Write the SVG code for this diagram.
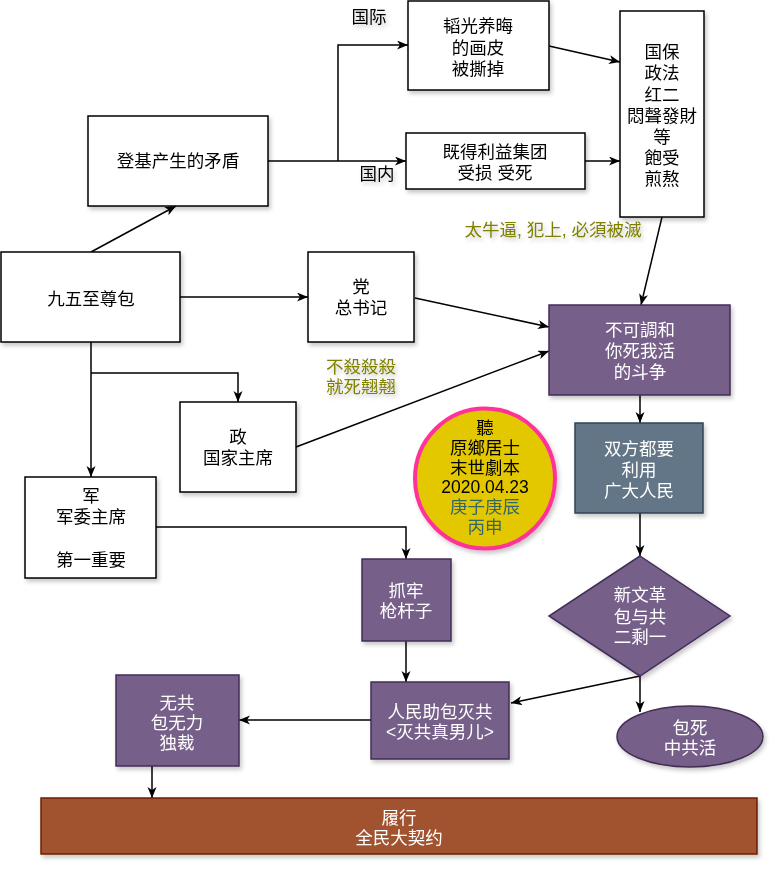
<svg xmlns="http://www.w3.org/2000/svg" width="782" height="872" viewBox="0 0 782 872">
<defs>
<filter id="sh" x="-10%" y="-10%" width="130%" height="130%">
<feDropShadow dx="2" dy="3" stdDeviation="2" flood-color="#000" flood-opacity="0.22"/>
</filter>
<marker id="arr" markerUnits="userSpaceOnUse" markerWidth="12" markerHeight="10" refX="11" refY="4.5" orient="auto" viewBox="0 0 12 10">
<path d="M0,0 L11,4.5 L0,9 L3,4.5 z" fill="#000"/>
</marker>
<style>
text{font-family:"Liberation Sans","Noto Sans CJK SC",sans-serif;font-size:17.5px;text-anchor:middle;}
.w{fill:#fff;stroke:#000;stroke-width:1.5;}
.p{fill:#76608a;stroke:#432d57;stroke-width:1.5;}
.s{fill:#647687;stroke:#314354;stroke-width:1.5;}
.b{fill:#a0522d;stroke:#6d1f00;stroke-width:1.5;}
.dk{fill:#000;}
.lt{fill:#fff;}
.ol{fill:#808000;}
.tl{fill:#336666;}
.c path{fill:none;stroke:#000;stroke-width:1.5;marker-end:url(#arr);}
</style>
</defs>
<rect width="782" height="872" fill="#fff"/>

<g id="connectors" class="c">
<path d="M91,252 L176,206"/>
<path d="M268,161 L406,161"/>
<path d="M338,161 L338,45 L408,45"/>
<path d="M549,46 L620,62"/>
<path d="M585,161 L620,161"/>
<path d="M662,217 L641,305"/>
<path d="M180,297 L308,297"/>
<path d="M415,298 L549,327"/>
<path d="M296,447 L549,351"/>
<path d="M91,342 L91,477"/>
<path d="M91,373 L238,373 L238,402"/>
<path d="M156,527 L406,527 L406,559"/>
<path d="M406,641 L406,682"/>
<path d="M640,395 L640,423"/>
<path d="M640,513 L640,556"/>
<path d="M640,676 L511,703"/>
<path d="M640,676 L640,712"/>
<path d="M371,720 L239,720"/>
<path d="M152,766 L152,798"/>
</g>

<g id="labels" filter="url(#sh)">
<text x="369" y="23" class="dk">国际</text>
<text x="377" y="180" class="dk">国内</text>
<text x="553" y="236" class="ol">太牛逼, 犯上, 必須被滅</text>
<text x="361" y="373" class="ol">不殺殺殺</text>
<text x="361" y="393" class="ol">就死翹翹</text>
</g>

<g id="n_dengji" filter="url(#sh)">
<rect x="88" y="116" width="180" height="90" class="w"/>
<text x="178" y="167" class="dk">登基产生的矛盾</text>
</g>
<g id="n_taoguang" filter="url(#sh)">
<rect x="408" y="1" width="141" height="89" class="w"/>
<text x="478" y="32" class="dk">韬光养晦</text>
<text x="478" y="54" class="dk">的画皮</text>
<text x="478" y="75" class="dk">被撕掉</text>
</g>
<g id="n_jide" filter="url(#sh)">
<rect x="406" y="133" width="179" height="56" class="w"/>
<text x="495" y="158" class="dk">既得利益集团</text>
<text x="495" y="179" class="dk">受损 受死</text>
</g>
<g id="n_guobao" filter="url(#sh)">
<rect x="620" y="11" width="84" height="206" class="w"/>
<text x="662" y="58" class="dk">国保</text>
<text x="662" y="79" class="dk">政法</text>
<text x="662" y="101" class="dk">红二</text>
<text x="662" y="122" class="dk">悶聲發財</text>
<text x="662" y="143" class="dk">等</text>
<text x="662" y="164" class="dk">飽受</text>
<text x="662" y="185" class="dk">煎熬</text>
</g>
<g id="n_jiuwu" filter="url(#sh)">
<rect x="1" y="252" width="179" height="90" class="w"/>
<text x="91" y="305" class="dk">九五至尊包</text>
</g>
<g id="n_dang" filter="url(#sh)">
<rect x="308" y="252" width="106" height="90" class="w"/>
<text x="361" y="293" class="dk">党</text>
<text x="361" y="314" class="dk">总书记</text>
</g>
<g id="n_zheng" filter="url(#sh)">
<rect x="180" y="402" width="116" height="90" class="w"/>
<text x="238" y="443" class="dk">政</text>
<text x="238" y="464" class="dk">国家主席</text>
</g>
<g id="n_jun" filter="url(#sh)">
<rect x="25" y="477" width="131" height="101" class="w"/>
<text x="91" y="502" class="dk">军</text>
<text x="91" y="523" class="dk">军委主席</text>
<text x="91" y="566" class="dk">第一重要</text>
</g>
<g id="n_bukediaohe" filter="url(#sh)">
<rect x="549" y="305" width="181" height="90" class="p"/>
<text x="640" y="336" class="lt">不可調和</text>
<text x="640" y="357" class="lt">你死我活</text>
<text x="640" y="378" class="lt">的斗争</text>
</g>
<g id="n_shuangfang" filter="url(#sh)">
<rect x="575" y="423" width="128" height="90" class="s"/>
<text x="639" y="455" class="lt">双方都要</text>
<text x="639" y="476" class="lt">利用</text>
<text x="639" y="497" class="lt">广大人民</text>
</g>
<g id="n_circle" filter="url(#sh)">
<circle cx="485" cy="478.5" r="70" fill="#e3c800" stroke="#ff3399" stroke-width="4"/>
<text x="485" y="434" class="dk">聽</text>
<text x="485" y="454" class="dk">原鄉居士</text>
<text x="485" y="474" class="dk">末世劇本</text>
<text x="485" y="493" class="dk">2020.04.23</text>
<text x="485" y="513" class="tl">庚子庚辰</text>
<text x="485" y="533" class="tl">丙申</text>
</g>
<g id="n_zhuajun" filter="url(#sh)">
<rect x="362" y="559" width="89" height="82" class="p"/>
<text x="406" y="597" class="lt">抓牢</text>
<text x="406" y="617" class="lt">枪杆子</text>
</g>
<g id="n_renmin" filter="url(#sh)">
<rect x="371" y="682" width="138" height="77" class="p"/>
<text x="440" y="718" class="lt">人民助包灭共</text>
<text x="440" y="738" class="lt">&lt;灭共真男儿&gt;</text>
</g>
<g id="n_wugong" filter="url(#sh)">
<rect x="116" y="675" width="123" height="91" class="p"/>
<text x="177" y="709" class="lt">无共</text>
<text x="177" y="729" class="lt">包无力</text>
<text x="177" y="749" class="lt">独裁</text>
</g>
<g id="n_xinwenge" filter="url(#sh)">
<path d="M640,556 L730,616 L640,676 L549,616 Z" class="p"/>
<text x="640" y="601" class="lt">新文革</text>
<text x="640" y="623" class="lt">包与共</text>
<text x="640" y="643" class="lt">二剩一</text>
</g>
<g id="n_baosi" filter="url(#sh)">
<ellipse cx="690" cy="736.5" rx="73" ry="30.5" class="p"/>
<text x="690" y="734" class="lt">包死</text>
<text x="690" y="754" class="lt">中共活</text>
</g>
<g id="n_lvxing" filter="url(#sh)">
<rect x="41" y="798" width="716" height="56" class="b"/>
<text x="399" y="824" class="lt">履行</text>
<text x="399" y="844" class="lt">全民大契约</text>
</g>
</svg>
